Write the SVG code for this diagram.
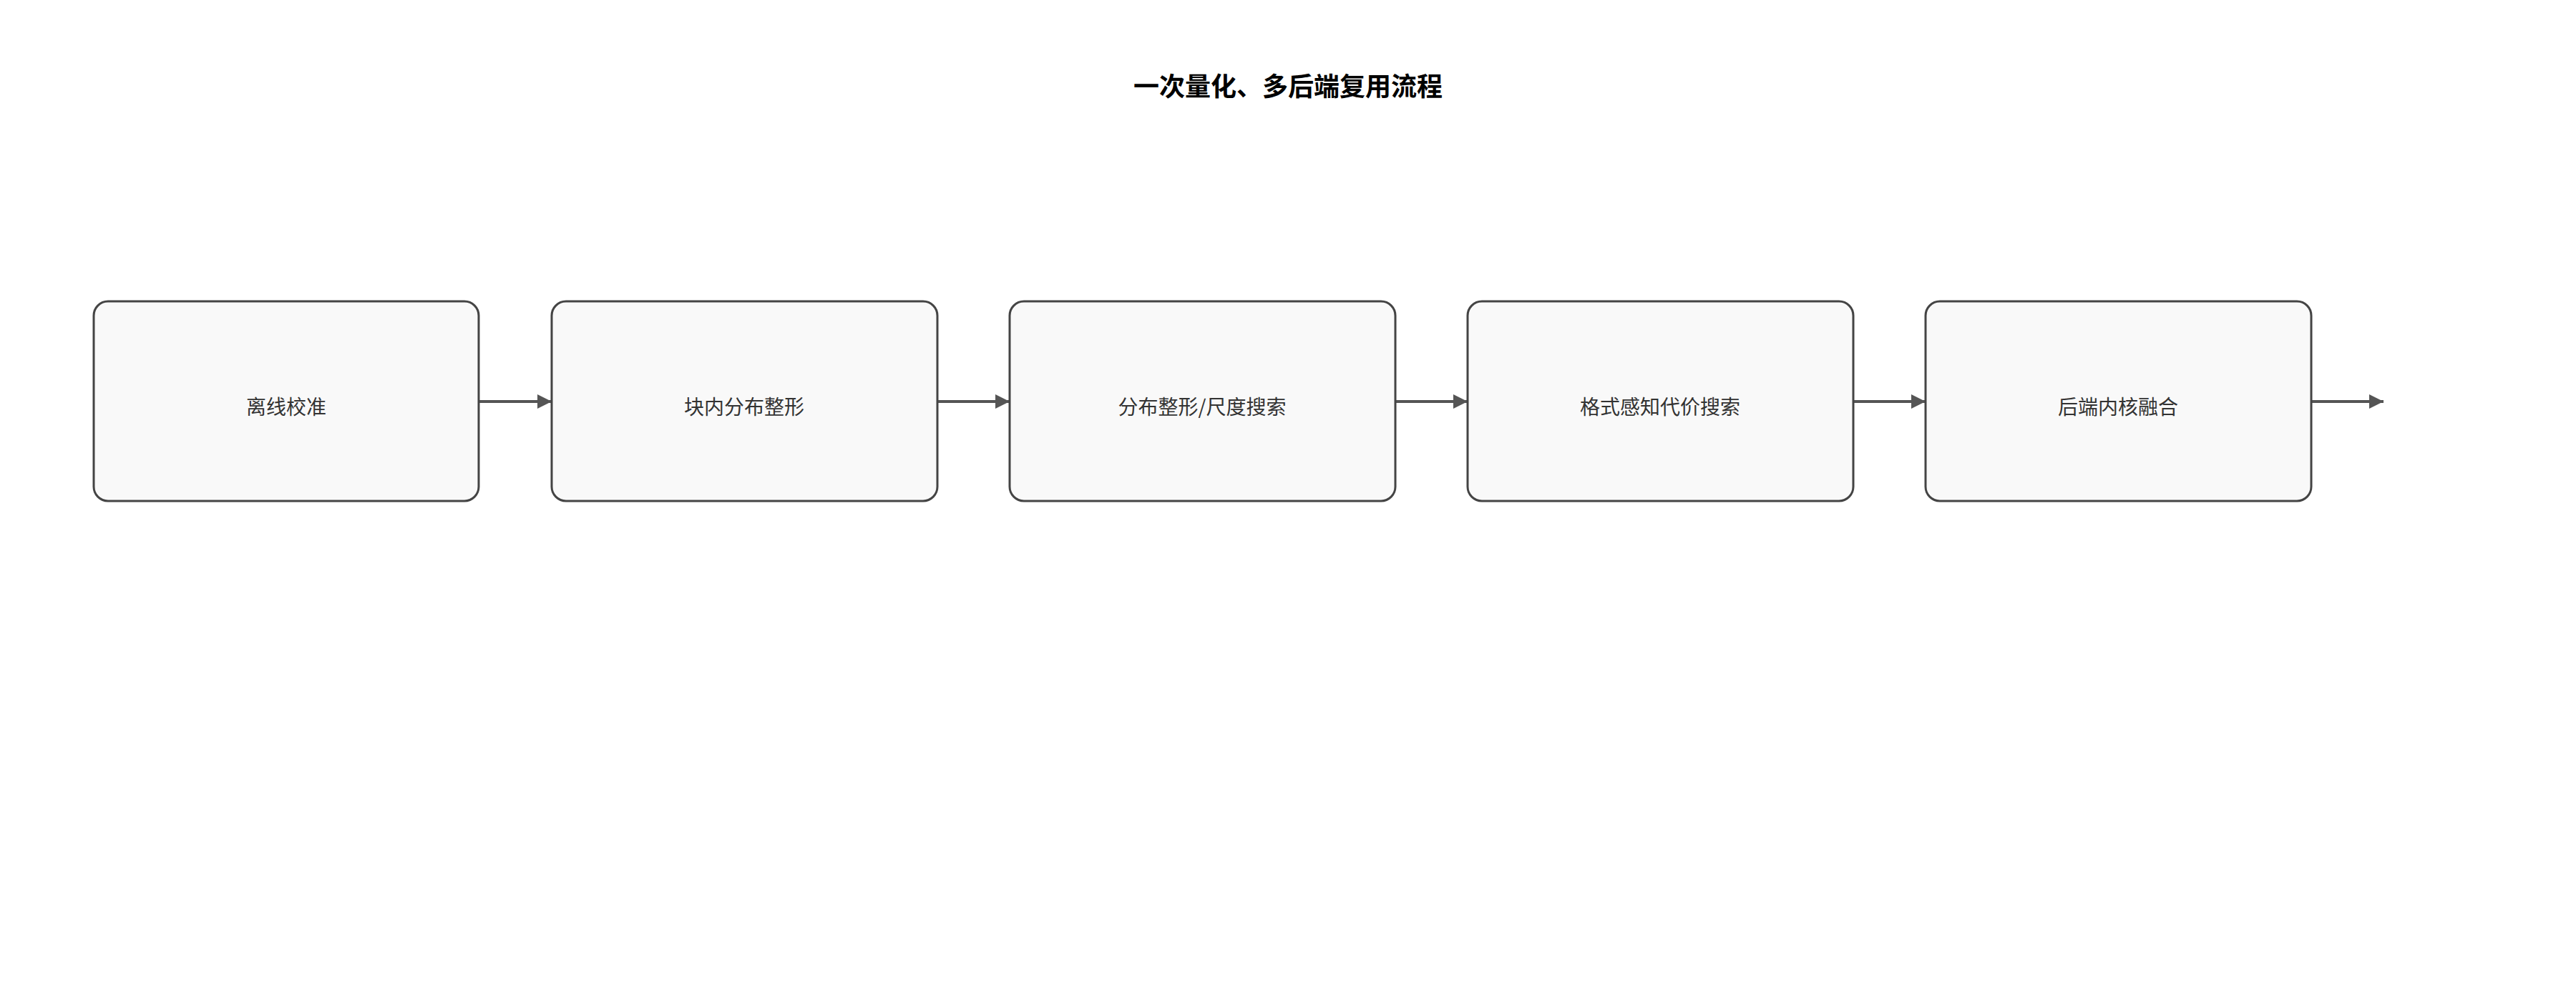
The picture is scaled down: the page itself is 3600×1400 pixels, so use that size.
<svg xmlns="http://www.w3.org/2000/svg" width="3600" height="1400" viewBox="0 0 3600 1400">
<style>
.n rect{fill:#f9f9f9;stroke:#444;stroke-width:3}
.n text{font-family:"Noto Sans CJK SC",sans-serif;font-size:28px;fill:#333;text-anchor:middle;dominant-baseline:central}
.c line{stroke:#555;stroke-width:4}
.t{font-family:"Noto Sans CJK SC",sans-serif;font-size:36px;font-weight:bold;fill:#000;text-anchor:middle;dominant-baseline:central}
</style>
<defs><marker id="a" markerWidth="5" markerHeight="5" refX="5" refY="2.5" orient="auto" markerUnits="strokeWidth"><path d="M0,0L5,2.5L0,5z" fill="#555"/></marker></defs>
<rect width="3600" height="1400" fill="#fff"/>
<text class="t" x="1800" y="118">一次量化、多后端复用流程</text>
<g class="c">
<line x1="669" y1="561" x2="771" y2="561" marker-end="url(#a)"/>
<line x1="1310" y1="561" x2="1411" y2="561" marker-end="url(#a)"/>
<line x1="1950" y1="561" x2="2051" y2="561" marker-end="url(#a)"/>
<line x1="2590" y1="561" x2="2691" y2="561" marker-end="url(#a)"/>
<line x1="3230" y1="561" x2="3331" y2="561" marker-end="url(#a)"/>
</g>
<g id="n1" class="n"><rect x="131" y="421" width="538" height="279" rx="20"/><text x="400" y="567">离线校准</text></g>
<g id="n2" class="n"><rect x="771" y="421" width="539" height="279" rx="20"/><text x="1040" y="567">块内分布整形</text></g>
<g id="n3" class="n"><rect x="1411" y="421" width="539" height="279" rx="20"/><text x="1680" y="567">分布整形/尺度搜索</text></g>
<g id="n4" class="n"><rect x="2051" y="421" width="539" height="279" rx="20"/><text x="2320" y="567">格式感知代价搜索</text></g>
<g id="n5" class="n"><rect x="2691" y="421" width="539" height="279" rx="20"/><text x="2960" y="567">后端内核融合</text></g>
</svg>
